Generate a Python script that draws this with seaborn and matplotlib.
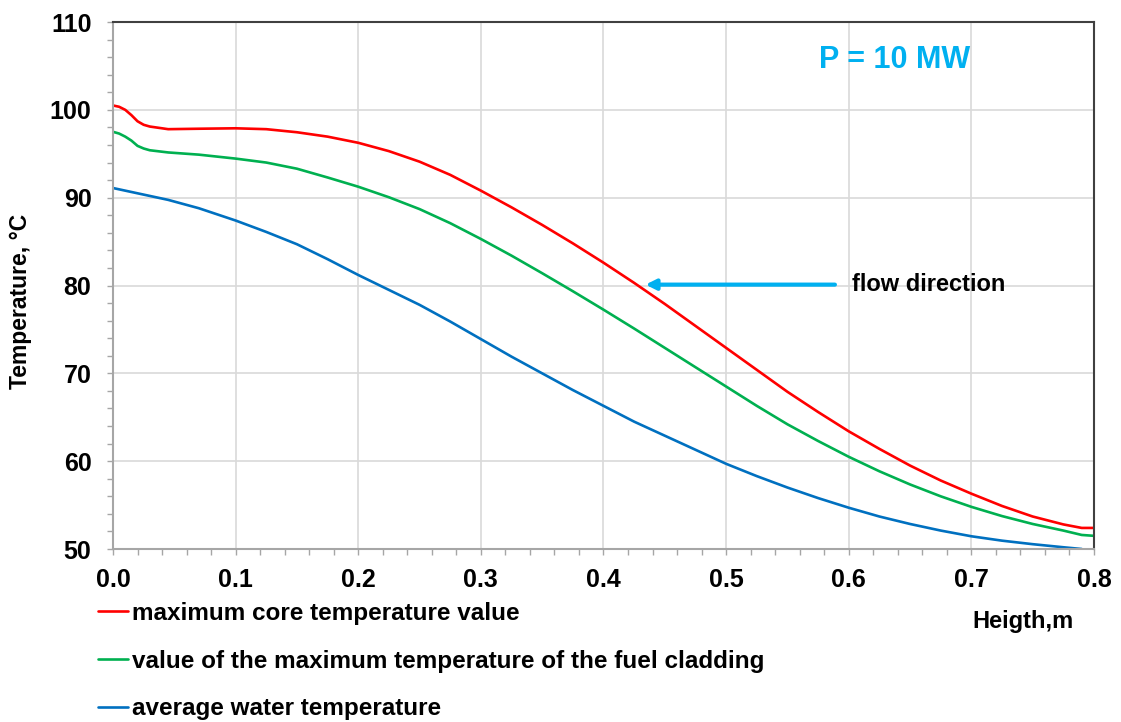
import numpy as np
import pandas as pd
import seaborn as sns
import matplotlib.pyplot as plt
from matplotlib.ticker import MultipleLocator, StrMethodFormatter

# Data
height = [0.0, 0.005, 0.01, 0.015, 0.02, 0.025, 0.03, 0.045, 0.07, 0.1, 0.125,
          0.15, 0.175, 0.2, 0.225, 0.25, 0.275, 0.3, 0.325, 0.35, 0.375,
          0.4, 0.425, 0.45, 0.475, 0.5, 0.525, 0.55, 0.575, 0.6, 0.625,
          0.65, 0.675, 0.7, 0.725, 0.75, 0.775, 0.79, 0.8]
core_max = [100.5, 100.35, 100.0, 99.4, 98.7, 98.3, 98.1, 97.8, 97.85, 97.9, 97.8,
            97.45, 96.95, 96.25, 95.3, 94.1, 92.6, 90.8, 88.9, 86.9, 84.8,
            82.6, 80.3, 77.9, 75.4, 72.9, 70.4, 67.9, 65.6, 63.4, 61.4,
            59.5, 57.8, 56.3, 54.9, 53.7, 52.8, 52.4, 52.4]
cladding_max = [97.5, 97.3, 96.95, 96.5, 95.9, 95.6, 95.4, 95.15, 94.9, 94.45, 94.0,
                93.3, 92.3, 91.25, 90.05, 88.7, 87.1, 85.3, 83.4, 81.4, 79.35,
                77.25, 75.1, 72.9, 70.7, 68.5, 66.3, 64.2, 62.3, 60.5, 58.85,
                57.35, 56.0, 54.8, 53.75, 52.85, 52.1, 51.6, 51.5]
water_avg = [91.1, 90.95, 90.8, 90.65, 90.5, 90.35, 90.2, 89.75, 88.8, 87.4, 86.1,
             84.7, 83.0, 81.2, 79.5, 77.8, 75.9, 73.9, 71.9, 70.0, 68.1,
             66.3, 64.5, 62.9, 61.3, 59.7, 58.3, 57.0, 55.8, 54.7, 53.7,
             52.85, 52.1, 51.45, 50.95, 50.55, 50.2, 50.0, None]

labels = ["maximum core temperature value",
          "value of the maximum temperature of the fuel cladding",
          "average water temperature"]
colors = ["#FF0000", "#00B050", "#0070C0"]

df = pd.DataFrame({
    "Height": height * 3,
    "Temperature": core_max + cladding_max + water_avg,
    "Series": [labels[0]] * len(height) + [labels[1]] * len(height) + [labels[2]] * len(height),
}).dropna()

sns.set_style("white")
plt.rcParams["font.family"] = ["Liberation Sans", "DejaVu Sans"]
plt.rcParams["font.weight"] = "bold"
plt.rcParams["text.color"] = "black"

fig = plt.figure(figsize=(11.21, 7.22), dpi=100)
ax = fig.add_axes([0.1008, 0.2396, 0.8751, 0.7299])

sns.lineplot(data=df, x="Height", y="Temperature", hue="Series",
             palette=dict(zip(labels, colors)), linewidth=1.9, ax=ax, sort=False)

ax.xaxis.set_major_locator(MultipleLocator(0.1))
ax.xaxis.set_minor_locator(MultipleLocator(0.02))
ax.yaxis.set_major_locator(MultipleLocator(10))
ax.yaxis.set_minor_locator(MultipleLocator(2))
ax.xaxis.set_major_formatter(StrMethodFormatter("{x:.1f}"))
ax.set_xlim(0, 0.8)
ax.set_ylim(50, 110)
ax.grid(True, which="major", color="#d9d9d9", linewidth=1.2)
ax.set_axisbelow(True)

ax.tick_params(which="both", direction="out", length=4.5, width=1, color="#a6a6a6",
               bottom=True, left=True, labelsize=18, labelcolor="black")
ax.tick_params(axis="x", pad=9.5)
ax.tick_params(axis="y", pad=11)
for lab in ax.get_xticklabels() + ax.get_yticklabels():
    lab.set_fontweight("bold")

for side in ["left", "bottom"]:
    ax.spines[side].set_color("#a6a6a6")
    ax.spines[side].set_linewidth(1.5)
for side in ["top", "right"]:
    ax.spines[side].set_color("#404040")
    ax.spines[side].set_linewidth(1.5)

ax.set_xlabel("")
ax.set_ylabel("")
fig.text(0.018, 0.583, "Temperature, °C", fontsize=16.5, fontweight="bold",
         rotation=90, ha="center", va="center")

# Annotations
ax.text(0.576, 105.7, "P = 10 MW", color="#00B0F0", fontsize=22, fontweight="bold",
        va="center", ha="left")
ax.annotate("", xy=(0.432, 80.1), xytext=(0.591, 80.1),
            arrowprops=dict(arrowstyle="-|>,head_length=0.6,head_width=0.3",
                            color="#00B0F0", lw=3))
ax.text(0.603, 80.1, "flow direction", fontsize=17, fontweight="bold",
        va="center", ha="left")
fig.text(0.913, 0.139, "Heigth,m", fontsize=17, fontweight="bold", ha="center", va="center")

# Legend below the plot
handles, hlabels = ax.get_legend_handles_labels()
ax.get_legend().remove()
fig.legend(handles, hlabels, loc="upper left", bbox_to_anchor=(0.087, 0.1665),
           frameon=False, handlelength=1.25, handletextpad=0.15, labelspacing=1.02,
           borderpad=0, borderaxespad=0, prop={"size": 17.5, "weight": "bold"})

fig.savefig("out.png", dpi=100)
